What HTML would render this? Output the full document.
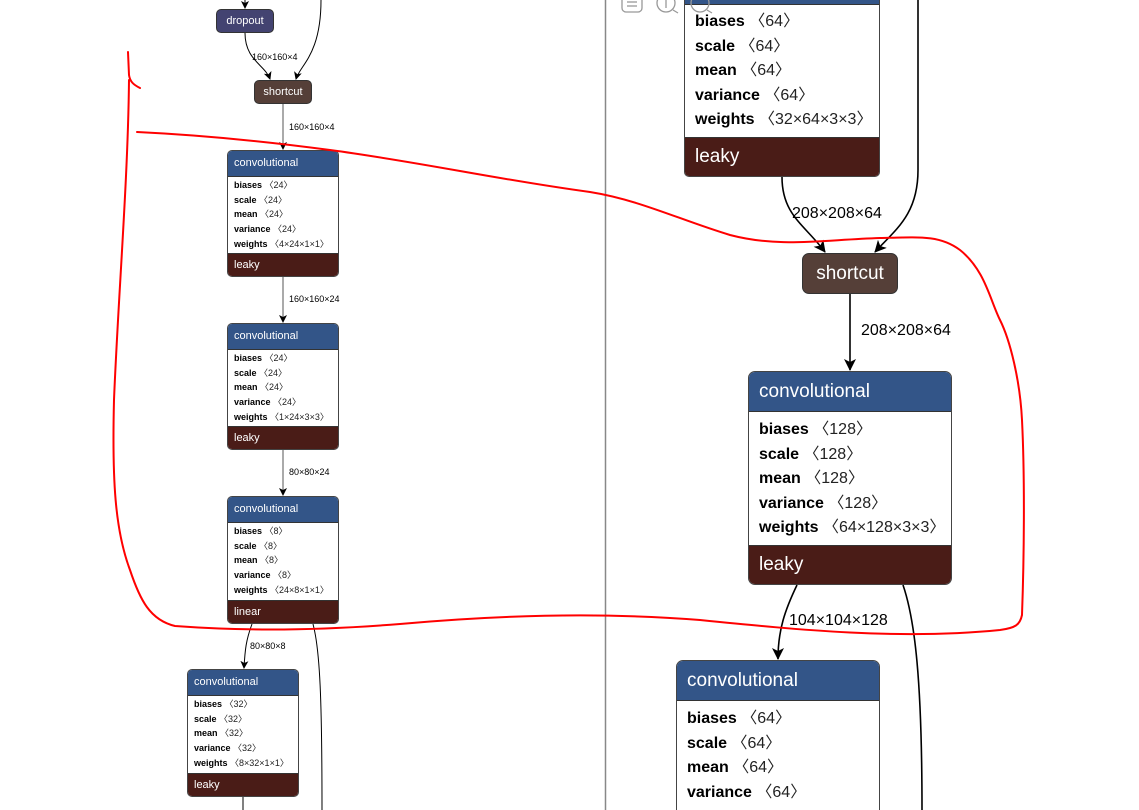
<!DOCTYPE html>
<html><head><meta charset="utf-8"><style>
html,body{margin:0;padding:0;background:#fff;width:1139px;height:810px;overflow:hidden;}
body{position:relative;font-family:"Liberation Sans","DejaVu Sans",sans-serif;}
.n{position:absolute;box-sizing:border-box;border:1px solid #444;border-radius:5px;overflow:hidden;background:#fff;}
.h{background:#335588;color:#fff;box-sizing:border-box;border-bottom:1px solid #333;}
.f{background:#4a1c17;color:#fff;position:absolute;left:0;right:0;bottom:0;box-sizing:border-box;border-top:1px solid #333;}
.s .h{font-size:11px;height:26px;line-height:25px;padding-left:6px;}
.s .f{font-size:11px;height:23px;line-height:22px;padding-left:6px;}
.s .r{font-size:9px;height:14.7px;line-height:14.7px;padding-left:6px;color:#000;white-space:nowrap;}
.s .b{padding-top:1px;}
.L .h{font-size:19px;height:40px;line-height:40px;padding-left:10px;}
.L .f{font-size:19px;height:39px;line-height:38px;padding-left:10px;}
.L .r{font-size:16px;height:24.6px;line-height:24.6px;padding-left:10px;color:#000;white-space:nowrap;}
.L .b{padding-top:6px;}
.r b{font-weight:bold;}
.r span{color:#222;}
.p{position:absolute;box-sizing:border-box;border:1px solid #333;border-radius:5px;color:#fff;text-align:center;}
.lbl{position:absolute;color:#000;white-space:nowrap;}
</style></head><body>

<div class="p" style="left:216px;top:9px;width:58px;height:24px;background:#434371;font-size:11px;line-height:22px;">dropout</div>
<div class="p" style="left:254px;top:80px;width:58px;height:24px;background:#553f38;font-size:11px;line-height:22px;">shortcut</div>

<div class="n s" style="left:227px;top:150px;width:112px;height:127px;">
<div class="h">convolutional</div>
<div class="b">
<div class="r"><b>biases</b> <span>〈24〉</span></div>
<div class="r"><b>scale</b> <span>〈24〉</span></div>
<div class="r"><b>mean</b> <span>〈24〉</span></div>
<div class="r"><b>variance</b> <span>〈24〉</span></div>
<div class="r"><b>weights</b> <span>〈4×24×1×1〉</span></div>
</div><div class="f">leaky</div></div>

<div class="n s" style="left:227px;top:323px;width:112px;height:127px;">
<div class="h">convolutional</div>
<div class="b">
<div class="r"><b>biases</b> <span>〈24〉</span></div>
<div class="r"><b>scale</b> <span>〈24〉</span></div>
<div class="r"><b>mean</b> <span>〈24〉</span></div>
<div class="r"><b>variance</b> <span>〈24〉</span></div>
<div class="r"><b>weights</b> <span>〈1×24×3×3〉</span></div>
</div><div class="f">leaky</div></div>

<div class="n s" style="left:227px;top:496px;width:112px;height:128px;">
<div class="h">convolutional</div>
<div class="b">
<div class="r"><b>biases</b> <span>〈8〉</span></div>
<div class="r"><b>scale</b> <span>〈8〉</span></div>
<div class="r"><b>mean</b> <span>〈8〉</span></div>
<div class="r"><b>variance</b> <span>〈8〉</span></div>
<div class="r"><b>weights</b> <span>〈24×8×1×1〉</span></div>
</div><div class="f">linear</div></div>

<div class="n s" style="left:187px;top:669px;width:112px;height:128px;">
<div class="h">convolutional</div>
<div class="b">
<div class="r"><b>biases</b> <span>〈32〉</span></div>
<div class="r"><b>scale</b> <span>〈32〉</span></div>
<div class="r"><b>mean</b> <span>〈32〉</span></div>
<div class="r"><b>variance</b> <span>〈32〉</span></div>
<div class="r"><b>weights</b> <span>〈8×32×1×1〉</span></div>
</div><div class="f">leaky</div></div>

<div class="lbl" style="left:252px;top:52px;font-size:9px;">160×160×4</div>
<div class="lbl" style="left:289px;top:122px;font-size:9px;">160×160×4</div>
<div class="lbl" style="left:289px;top:294px;font-size:9px;">160×160×24</div>
<div class="lbl" style="left:289px;top:467px;font-size:9px;">80×80×24</div>
<div class="lbl" style="left:250px;top:641px;font-size:9px;">80×80×8</div>

<div class="n L" style="left:684px;top:-6px;width:196px;height:183px;">
<div class="h" style="height:10px;"></div>
<div class="b" style="padding-top:5px;">
<div class="r"><b>biases</b> <span>〈64〉</span></div>
<div class="r"><b>scale</b> <span>〈64〉</span></div>
<div class="r"><b>mean</b> <span>〈64〉</span></div>
<div class="r"><b>variance</b> <span>〈64〉</span></div>
<div class="r"><b>weights</b> <span>〈32×64×3×3〉</span></div>
</div><div class="f">leaky</div></div>

<div class="p" style="left:802px;top:253px;width:96px;height:41px;background:#553f38;font-size:19px;line-height:39px;border-radius:7px;">shortcut</div>

<div class="n L" style="left:748px;top:371px;width:204px;height:214px;border-radius:7px;">
<div class="h">convolutional</div>
<div class="b">
<div class="r"><b>biases</b> <span>〈128〉</span></div>
<div class="r"><b>scale</b> <span>〈128〉</span></div>
<div class="r"><b>mean</b> <span>〈128〉</span></div>
<div class="r"><b>variance</b> <span>〈128〉</span></div>
<div class="r"><b>weights</b> <span>〈64×128×3×3〉</span></div>
</div><div class="f">leaky</div></div>

<div class="n L" style="left:676px;top:660px;width:204px;height:170px;border-radius:7px;">
<div class="h">convolutional</div>
<div class="b">
<div class="r"><b>biases</b> <span>〈64〉</span></div>
<div class="r"><b>scale</b> <span>〈64〉</span></div>
<div class="r"><b>mean</b> <span>〈64〉</span></div>
<div class="r"><b>variance</b> <span>〈64〉</span></div>
</div></div>

<div class="lbl" style="left:792px;top:205px;font-size:16px;">208×208×64</div>
<div class="lbl" style="left:861px;top:322px;font-size:16px;">208×208×64</div>
<div class="lbl" style="left:789px;top:612px;font-size:16px;">104×104×128</div>

<svg width="1139" height="810" style="position:absolute;left:0;top:0;" xmlns="http://www.w3.org/2000/svg">
<defs>
<marker id="a" markerWidth="8" markerHeight="8" refX="7" refY="4" orient="auto" markerUnits="userSpaceOnUse"><path d="M0,0 L8,4 L0,8 L2,4 Z" fill="#000"/></marker>
<marker id="A" markerWidth="12" markerHeight="12" refX="11" refY="6" orient="auto" markerUnits="userSpaceOnUse"><path d="M0,0 L12,6 L0,12 L3,6 Z" fill="#000"/></marker>
</defs>
<line x1="605.5" y1="0" x2="605.5" y2="810" stroke="#888" stroke-width="1.5"/>
<g fill="none" stroke="#999" stroke-width="1.3">
<rect x="622" y="-8" width="20" height="20" rx="4"/>
<line x1="627" y1="2" x2="637" y2="2"/><line x1="627" y1="6" x2="637" y2="6"/>
<circle cx="666" cy="3" r="9"/><line x1="673" y1="10" x2="678" y2="13"/>
<line x1="666" y1="-2" x2="666" y2="8"/>
<circle cx="700" cy="3" r="9"/><line x1="707" y1="10" x2="712" y2="13"/>
</g>
<g fill="none" stroke="#000" stroke-width="1">
<line x1="245" y1="0" x2="245" y2="8" marker-end="url(#a)"/>
<path d="M245,33 C245,60 265,65 270,79" marker-end="url(#a)"/>
<path d="M321,0 C321,55 300,65 296,79" marker-end="url(#a)"/>
<line x1="283" y1="104" x2="283" y2="149" marker-end="url(#a)" stroke="#555"/>
<line x1="283" y1="277" x2="283" y2="322" marker-end="url(#a)" stroke="#555"/>
<line x1="283" y1="450" x2="283" y2="495" marker-end="url(#a)" stroke="#555"/>
<path d="M252,624 C246,640 245,650 244,668" marker-end="url(#a)"/>
<path d="M313,624 C320,650 322,700 322,810"/>
<line x1="243" y1="797" x2="243" y2="810"/>
</g>
<g fill="none" stroke="#000" stroke-width="1.6">
<path d="M782,177 C782,215 805,225 825,252" marker-end="url(#A)"/>
<path d="M918,0 L918,170 C918,215 895,230 875,252" marker-end="url(#A)"/>
<line x1="850" y1="294" x2="850" y2="370" marker-end="url(#A)"/>
<path d="M797,585 C785,610 778,630 778,659" marker-end="url(#A)"/>
<path d="M903,585 C915,620 922,680 922,810"/>
</g>
<g fill="none" stroke="#ff0000" stroke-width="2" stroke-linecap="round" stroke-linejoin="round">
<path d="M128,52 L129,75 C130,82 134,85 140,88"/>
<path d="M129,80 C128,180 118,300 114,400 C112,480 115,530 130,570 C140,600 150,620 175,626 C230,630 300,632 400,624 C500,615 600,612 700,620 C800,630 900,640 1000,630 C1015,628 1020,625 1022,615 C1024,560 1025,480 1022,420 C1020,380 1010,340 1000,320 C990,300 985,270 960,250 C940,235 920,237 880,238 C820,240 780,248 730,235 C680,220 640,200 590,192 C500,180 420,162 330,150 C270,142 200,135 137,132"/>
</g>
</svg>
</body></html>
